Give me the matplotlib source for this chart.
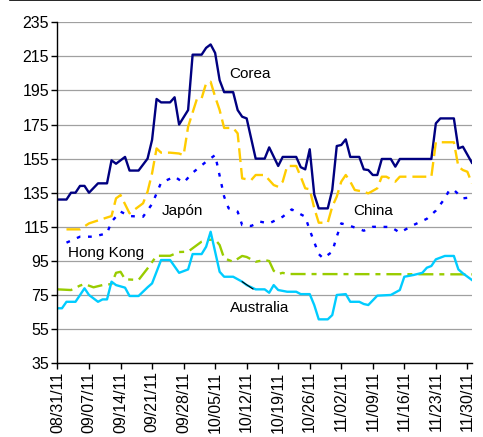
import numpy as np
import pandas as pd
import matplotlib
matplotlib.use("Agg")
import matplotlib.pyplot as plt
import matplotlib.dates as mdates
from matplotlib.lines import Line2D

plt.rcParams['font.family'] = ['Liberation Sans', 'DejaVu Sans']
plt.rcParams['lines.scale_dashes'] = False

start = pd.Timestamp('2011-08-31')

# days counted from 08/31/11, values read per series
corea_days = [0, 2, 3, 4, 5, 6, 7, 9, 11, 12, 13, 15, 16, 18, 20, 21, 22, 23, 25, 26,
              27, 29, 30, 32, 33, 34, 35, 36, 37, 39, 40, 41, 42, 44, 46, 47, 49, 50,
              53, 54, 55, 56, 57, 58, 60, 61, 62, 63, 64, 65, 67, 68, 69, 70, 71, 72,
              74, 75, 76, 83, 84, 85, 88, 89, 90, 92]
corea = [131, 131, 135, 135, 139, 139, 135, 140.5, 140.5, 154, 152, 156, 148, 148, 155,
         166, 190, 188, 188, 191, 175, 183.5, 216, 216, 220, 222, 217, 201, 194, 194,
         183.5, 179.6, 178.6, 155, 155, 161.6, 150.7, 156, 156, 150, 148.7, 160.5, 134,
         125.8, 125.8, 136.6, 162.4, 163, 166.3, 156, 156, 148.7, 148.3, 145.4, 145.4,
         154.8, 154.8, 150.3, 154.8, 154.8, 175.7, 178.6, 178.6, 161, 162, 152.6]

china_days = [2, 5, 7, 10, 12, 13, 14, 16, 19, 20, 21, 22, 23, 25, 27, 28, 29, 31, 32,
              33, 34, 35, 36, 37, 39, 40, 41, 43, 44, 46, 48, 49, 50, 51, 53, 54, 55,
              56, 57, 58, 60, 61, 62, 63, 64, 65, 66, 68, 69, 71, 72, 73, 75, 76, 83,
              84, 88, 89, 90, 91, 92]
china = [113.5, 113.5, 117, 119.6, 121.3, 131.7, 133.6, 122.9, 128.8, 135.6, 146.4, 161,
         158.5, 158.5, 158, 157, 173.7, 190.4, 190.4, 199.2, 200.1, 191.3, 183.5, 173,
         173, 169.8, 143.4, 142.4, 145.4, 145.4, 139.5, 138.5, 141.5, 150.7, 150.7, 144.4,
         137.6, 137, 126, 117.4, 117.4, 126.8, 132.7, 141.5, 145.4, 141.5, 136.6, 135.6,
         134.6, 137.6, 144.4, 144.4, 141.5, 144.4, 144.4, 164.6, 164.6, 150.3, 148.3,
         147.3, 140.5]

japon_days = [2, 5, 8, 11, 12, 14, 16, 19, 21, 22, 23, 26, 28, 30, 33, 35, 36, 37, 38,
              40, 41, 43, 45, 47, 50, 52, 55, 56, 57, 58, 59, 61, 62, 63, 65, 68, 70,
              74, 76, 79, 82, 84, 86, 87, 88, 90, 91]
japon = [105.7, 109.2, 109.2, 111.2, 118, 123.9, 121.3, 120.9, 128.4, 134.6, 140.9,
         144.4, 140.9, 146.7, 153.2, 157.1, 145, 132.7, 125.8, 123.9, 116, 115.5, 118,
         117, 120.9, 125.2, 120.9, 113.1, 106, 99, 96.5, 100.4, 109.2, 117, 115.5, 112.7,
         115, 114.9, 111.6, 116, 119.7, 124.5, 131.7, 136.6, 136.6, 131.7, 132]

hk_days = [0, 3, 5, 6, 8, 10, 12, 13, 14, 15, 18, 20, 22, 25, 27, 29, 30, 32, 33, 35,
           36, 37, 39, 41, 42, 44, 46, 47, 48, 49, 50, 51, 92]
hong_kong = [78.3, 77.9, 80.5, 81.4, 79.5, 80.8, 81.4, 88, 88.6, 84.2, 83.8, 90.6, 98,
             98, 100.2, 100.4, 102.4, 106.3, 107.2, 107.6, 104.3, 96.5, 94.5, 97.9, 97.3,
             94.5, 95.5, 94.9, 89.2, 87.3, 88, 87.3, 87.1]

aus_days = [0, 1, 2, 4, 6, 7, 9, 10, 11, 12, 13, 15, 16, 18, 20, 21, 23, 25, 27, 29, 30,
            32, 33, 34, 36, 37, 39, 41, 42, 44, 46, 47, 48, 49, 51, 53, 54, 56, 57, 58,
            60, 61, 62, 64, 65, 67, 68, 69, 71, 74, 76, 77, 79, 81, 82, 83, 84, 86, 88,
            89, 90, 92]
australia = [67.2, 67.2, 71, 71, 78.9, 75, 71, 72.4, 72.4, 82.8, 80.8, 79.3, 74.4, 74.4,
             79.5, 81.8, 95.5, 95.5, 88, 90, 99, 99, 103.3, 112.1, 88.6, 85.7, 85.7, 82.8,
             80.8, 78.3, 78.3, 76.3, 80.8, 77.9, 76.9, 76.9, 75.5, 75.5, 69.1, 60.7, 60.7,
             63.2, 75, 75.5, 71, 71, 69.7, 69.1, 74.6, 75, 77.9, 85.7, 86.7, 88, 91, 92,
             95.9, 97.9, 97.9, 90, 87.7, 83.8]


def to_dates(days):
    return start + pd.to_timedelta(days, unit='D')


fig = plt.figure(figsize=(4.83, 4.37), dpi=100)
ax = fig.add_axes([0.119, 0.169, 0.858, 0.780])

lw = 1.7
ax.plot(to_dates(corea_days), corea, color='#000080', lw=lw)
ax.plot(to_dates(china_days), china, color='#FFCC00', lw=lw, dashes=(10, 4.3))
ax.plot(to_dates(japon_days), japon, color='#0000FF', lw=lw, dashes=(2.7, 5.5))
ax.plot(to_dates(hk_days), hong_kong, color='#99CC00', lw=lw,
        dashes=(10.8, 4.3, 3.6, 4.3))
ax.plot(to_dates(aus_days), australia, color='#00CCFF', lw=lw)

# series names written next to their lines
fs = 11
ax.text(to_dates([38.1])[0], 204.7, 'Corea', fontsize=fs, va='center')
ax.text(to_dates([23.2])[0], 124.3, 'Japón', fontsize=fs, va='center')
ax.text(to_dates([65.7])[0], 124.3, 'China', fontsize=fs, va='center')
ax.text(to_dates([2.3])[0], 99.6, 'Hong Kong', fontsize=fs, va='center')
ax.text(to_dates([38.4])[0], 67.3, 'Australia', fontsize=fs, va='center')
ax.plot(to_dates([41, 43.4]), [82.8, 78.5], color='black', lw=0.8)

ax.set_ylim(35, 235)
ax.set_yticks(np.arange(35, 236, 20))
ax.set_xlim(start, start + pd.Timedelta(days=92))
ax.xaxis.set_major_locator(mdates.DayLocator(bymonthday=None, interval=7))
ax.set_xticks(to_dates(np.arange(0, 92, 7)))
ax.xaxis.set_major_formatter(mdates.DateFormatter('%m/%d/%y'))
plt.setp(ax.get_xticklabels(), rotation=90)

ax.yaxis.grid(True, color='#A0A0A0', lw=0.9)
ax.set_axisbelow(True)
for side in ['top', 'right']:
    ax.spines[side].set_visible(False)
for side in ['left', 'bottom']:
    ax.spines[side].set_linewidth(1.0)
ax.tick_params(direction='out', length=4, width=1, labelsize=11.5, pad=2)

# thin frame edge along the top of the image
fig.add_artist(Line2D([10 / 483, 480 / 483], [0.999, 0.999],
                      transform=fig.transFigure, color='black', lw=1.2))

fig.savefig('out.png', dpi=100)
